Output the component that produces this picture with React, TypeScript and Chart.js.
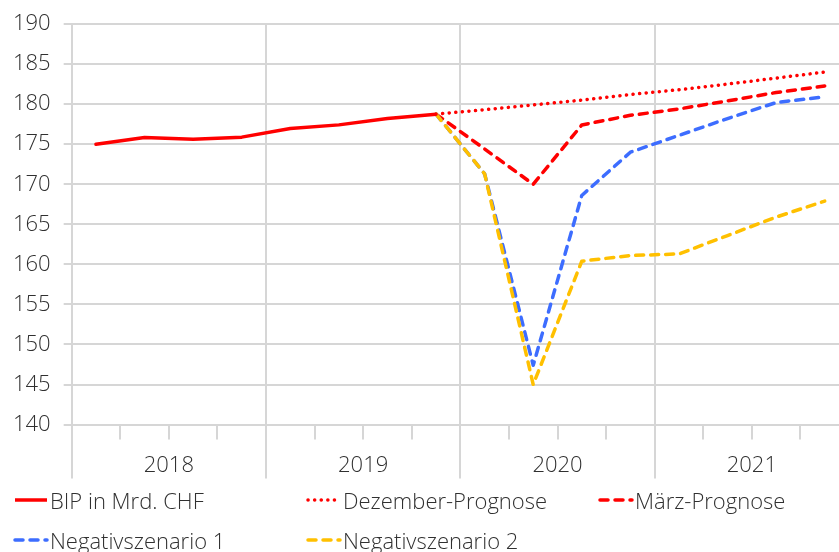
import React, { useEffect, useRef } from 'react';
import { Chart, registerables } from 'chart.js';

Chart.register(...registerables);

const quarters = [
  'Q1 2018', 'Q2 2018', 'Q3 2018', 'Q4 2018',
  'Q1 2019', 'Q2 2019', 'Q3 2019', 'Q4 2019',
  'Q1 2020', 'Q2 2020', 'Q3 2020', 'Q4 2020',
  'Q1 2021', 'Q2 2021', 'Q3 2021', 'Q4 2021',
];
const years = ['2018', '2019', '2020', '2021'];

const bip = [175.0, 175.84, 175.6, 175.88, 176.96, 177.41, 178.21, 178.75, null, null, null, null, null, null, null, null];
const dezemberPrognose = [null, null, null, null, null, null, null, 178.75, 179.3, 179.9, 180.5, 181.2, 181.8, 182.5, 183.25, 184.0];
const maerzPrognose = [null, null, null, null, null, null, null, 178.75, 174.4, 170.0, 177.4, 178.6, 179.4, 180.4, 181.45, 182.25];
const negativ1 = [null, null, null, null, null, null, null, 178.75, 171.3, 147.4, 168.6, 174.0, 176.1, 178.2, 180.2, 180.9];
const negativ2 = [null, null, null, null, null, null, null, 178.75, 171.3, 145.0, 160.4, 161.1, 161.3, 163.6, 165.9, 167.9];

const yMin = 140;
const yMax = 190;
const yStep = 5;

const RED = '#FF0000';
const BLUE = '#3D6DFF';
const YELLOW = '#FFC000';
const GRID = '#d6d6d6';
const TEXT = '#303030';
const FONT = '"Open Sans", sans-serif';

const yearSeparators = {
  id: 'yearSeparators',
  beforeDatasetsDraw(chart: any) {
    const x = chart.scales.x;
    const { ctx, chartArea } = chart;
    ctx.save();
    ctx.strokeStyle = GRID;
    ctx.lineWidth = 2;
    for (let k = 0; k <= quarters.length; k += 4) {
      const px = Math.round(x.getPixelForValue(k - 0.5));
      ctx.beginPath();
      ctx.moveTo(px, chartArea.bottom);
      ctx.lineTo(px, chartArea.bottom + 54);
      ctx.stroke();
    }
    ctx.restore();
  },
};

const legendItems = [
  { label: 'BIP in Mrd. CHF', color: RED, dash: '', cap: 'butt', row: 0, col: 0 },
  { label: 'Dezember-Prognose', color: RED, dash: '0.1 6.5', cap: 'round', row: 0, col: 1 },
  { label: 'März-Prognose', color: RED, dash: '8 7', cap: 'round', row: 0, col: 2 },
  { label: 'Negativszenario 1', color: BLUE, dash: '8 7', cap: 'round', row: 1, col: 0 },
  { label: 'Negativszenario 2', color: YELLOW, dash: '8 7', cap: 'round', row: 1, col: 1 },
];
const colLineX = [14, 307, 599];
const rowY = [500, 540];

export default function App() {
  const canvasRef = useRef<HTMLCanvasElement | null>(null);

  useEffect(() => {
    if (!canvasRef.current) return;
    const lineDs = (label: string, data: any[], color: string, dash: number[], cap: any, order: number) => ({
      label,
      data,
      borderColor: color,
      backgroundColor: color,
      borderWidth: 3.5,
      borderDash: dash,
      borderCapStyle: cap,
      borderJoinStyle: 'round',
      pointRadius: 0,
      pointHoverRadius: 0,
      tension: 0,
      spanGaps: false,
      fill: false,
      order,
      xAxisID: 'x',
      yAxisID: 'y',
    });
    const chart = new Chart(canvasRef.current, {
      type: 'line',
      data: {
        labels: quarters,
        datasets: [
          lineDs('BIP in Mrd. CHF', bip, RED, [], 'round', 0),
          lineDs('Dezember-Prognose', dezemberPrognose, RED, [0.1, 6.5], 'round', 4),
          lineDs('März-Prognose', maerzPrognose, RED, [8, 7], 'round', 3),
          lineDs('Negativszenario 1', negativ1, BLUE, [8, 7], 'round', 2),
          lineDs('Negativszenario 2', negativ2, YELLOW, [8, 7], 'round', 1),
        ] as any,
      },
      options: {
        responsive: false,
        animation: false,
        layout: { padding: { left: 0, right: 11, top: 12, bottom: 68 } },
        plugins: {
          legend: { display: false },
          tooltip: { enabled: false },
        },
        scales: {
          x: {
            type: 'category',
            position: 'bottom',
            weight: 0,
            offset: true,
            grid: {
              offset: true,
              lineWidth: 2,
              color: (ctx: any) => (ctx.index % 4 === 0 ? GRID : 'rgba(0,0,0,0)'),
              tickColor: GRID,
              tickLength: 15,
            },
            border: { display: true, color: GRID, width: 2 },
            ticks: { display: false },
          },
          x2: {
            type: 'category',
            labels: years,
            position: 'bottom',
            weight: 1,
            offset: true,
            grid: { display: false },
            border: { display: false },
            ticks: {
              color: TEXT,
              padding: 5,
              font: { family: FONT, size: 22, weight: 300 as any },
            },
          },
          y: {
            min: yMin,
            max: yMax,
            ticks: {
              stepSize: yStep,
              color: TEXT,
              padding: 13,
              font: { family: FONT, size: 22, weight: 300 as any, lineHeight: 1 },
            },
            grid: { color: GRID, lineWidth: 2, tickLength: 8, tickColor: GRID },
            border: { display: true, color: GRID, width: 2 },
          },
        } as any,
      },
      plugins: [yearSeparators],
    });
    return () => chart.destroy();
  }, []);

  return (
    <div style={{ position: 'absolute', left: 0, top: 0, width: 839, height: 552, overflow: 'hidden', background: '#fff' }}>
      <canvas ref={canvasRef} width={860} height={552} style={{ position: 'absolute', left: 0, top: 0, width: 860, height: 552 }} />
      {legendItems.map((it) => {
        const lx = colLineX[it.col];
        const cy = rowY[it.row];
        return (
          <React.Fragment key={it.label}>
            <svg width={36} height={10} style={{ position: 'absolute', left: lx - 1, top: cy - 5 }}>
              <line x1={2} y1={5} x2={34} y2={5} stroke={it.color} strokeWidth={3.5} strokeDasharray={it.dash || undefined} strokeLinecap={it.cap as any} />
            </svg>
            <span style={{ position: 'absolute', left: lx + 36, top: cy - 16, height: 32, lineHeight: '32px', fontFamily: FONT, fontSize: 22, fontWeight: 300, color: TEXT, whiteSpace: 'nowrap' }}>
              {it.label}
            </span>
          </React.Fragment>
        );
      })}
    </div>
  );
}
